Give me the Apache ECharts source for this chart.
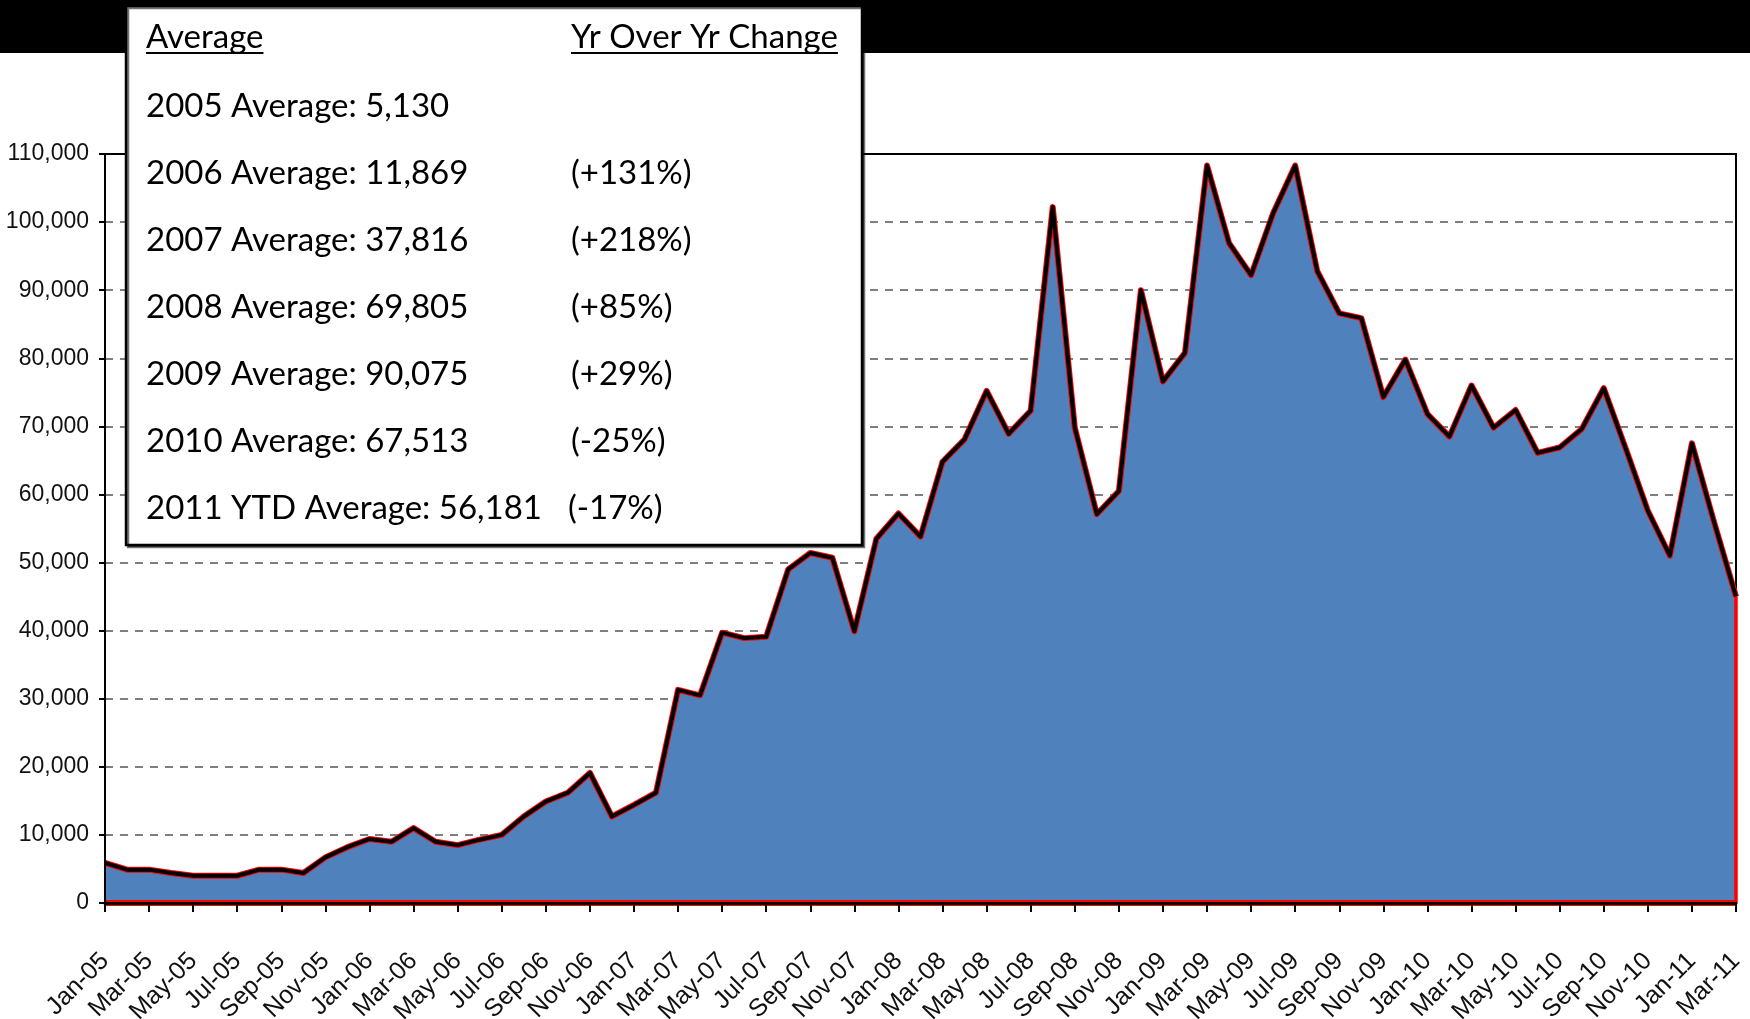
<!DOCTYPE html>
<html>
<head>
<meta charset="UTF-8">
<title>Monthly volume 2005 - 2011</title>
<script src="https://cdn.jsdelivr.net/npm/echarts@6/dist/echarts.min.js"></script>
<style>
	html, body { margin: 0; padding: 0; background: #fff; }
	#chart { width: 1750px; height: 1019px; }
</style>
</head>
<body>
<div id="chart"></div>
<script>
// month labels, Jan-05 .. Mar-11
var monthNames = ['Jan', 'Feb', 'Mar', 'Apr', 'May', 'Jun', 'Jul', 'Aug', 'Sep', 'Oct', 'Nov', 'Dec'];
var yearCodes = ['05', '06', '07', '08', '09', '10', '11'];
var lastYearMonths = 3;

// monthly values
var v2005 = [5900, 4900, 4900, 4400, 4000, 4000, 4000, 4900, 4900, 4400, 6700, 8200];
var v2006 = [9400, 9000, 11000, 9000, 8500, 9300, 10000, 12700, 14900, 16200, 19100, 12700];
var v2007 = [14400, 16200, 31300, 30500, 39700, 38900, 39100, 49000, 51400, 50700, 39900, 53500];
var v2008 = [57200, 53800, 64800, 68100, 75200, 68900, 72300, 102200, 69800, 57100, 60500, 90000];
var v2009 = [76600, 80800, 108300, 96900, 92200, 101300, 108300, 92800, 86600, 85900, 74300, 79800];
var v2010 = [71800, 68500, 76000, 69800, 72400, 66100, 66900, 69600, 75600, 66700, 57600, 51000];
var v2011 = [67500, 56000, 45000];

// y axis
var yMin = 0, yMax = 110000, yStep = 10000;

// box texts
var boxHeaders = ['Average', 'Yr Over Yr Change'];
var avgLabels = ['2005 Average: 5,130', '2006 Average: 11,869', '2007 Average: 37,816',
	'2008 Average: 69,805', '2009 Average: 90,075', '2010 Average: 67,513', '2011 YTD Average: 56,181'];
var yoyLabels = ['', '(+131%)', '(+218%)', '(+85%)', '(+29%)', '(-25%)', '(-17%)'];

var categories = [];
for (var y = 0; y < yearCodes.length; y++) {
	var n = (y === yearCodes.length - 1) ? lastYearMonths : 12;
	for (var m = 0; m < n; m++) categories.push(monthNames[m] + '-' + yearCodes[y]);
}
var values = [].concat(v2005, v2006, v2007, v2008, v2009, v2010, v2011);
var last = values.length - 1;

var axisFont = "'Liberation Sans', Arial, sans-serif";
var boxFont = "33px Lato";

// widths for the underlines
var ctx = document.createElement('canvas').getContext('2d');
ctx.font = boxFont;

var colA = 146, colB = 571;
var graphics = [
	{ type: 'rect', silent: true, z: 90, shape: { x: 0, y: 0, width: 1750, height: 53 }, style: { fill: '#000' } },
	{ type: 'rect', silent: true, z: 95, shape: { x: 126, y: 6, width: 736, height: 539 },
		style: { fill: '#fff', stroke: '#000', lineWidth: 2.5, shadowColor: 'rgba(0,0,0,0.55)', shadowOffsetX: 2, shadowOffsetY: 2 } }
];
[colA, colB].forEach(function (x, i) {
	graphics.push({ type: 'text', silent: true, z: 96, x: x, y: 37,
		style: { text: boxHeaders[i], font: boxFont, fill: '#000', verticalAlign: 'middle' } });
	graphics.push({ type: 'line', silent: true, z: 96,
		shape: { x1: x, y1: 53, x2: x + ctx.measureText(boxHeaders[i]).width, y2: 53 },
		style: { stroke: '#000', lineWidth: 2 } });
});
avgLabels.forEach(function (t, i) {
	var ty = 106 + i * 67.1;
	graphics.push({ type: 'text', silent: true, z: 96, x: colA, y: ty,
		style: { text: t, font: boxFont, fill: '#000', verticalAlign: 'middle' } });
	if (yoyLabels[i]) {
		graphics.push({ type: 'text', silent: true, z: 96, x: colB - (i === avgLabels.length - 1 ? 3 : 0), y: ty,
			style: { text: yoyLabels[i], font: boxFont, fill: '#000', verticalAlign: 'middle' } });
	}
});

var chart = echarts.init(document.getElementById('chart'));
var option = {
	animation: false,
	backgroundColor: '#fff',
	grid: {
		left: 105, right: 14, top: 154, bottom: 116,
		show: true, borderColor: '#000', borderWidth: 2,
		outerBoundsMode: 'none'
	},
	xAxis: {
		type: 'category',
		data: categories,
		boundaryGap: false,
		z: 10,
		axisLine: { lineStyle: { color: '#000', width: 3 } },
		axisTick: { interval: 1, length: 9, lineStyle: { color: '#000', width: 2 } },
		axisLabel: {
			interval: 1, rotate: 45, margin: 54,
			fontFamily: axisFont, fontSize: 25, color: '#111'
		},
		splitLine: { show: false }
	},
	yAxis: [{
		type: 'value', min: yMin, max: yMax, interval: yStep,
		axisLine: { show: false },
		axisTick: { show: false },
		axisLabel: {
			margin: 16, fontFamily: axisFont, fontSize: 23, color: '#111',
			formatter: function (v) { return v.toLocaleString('en-US'); }
		},
		splitLine: {
			show: true, showMinLine: false, showMaxLine: false,
			lineStyle: { color: '#555', width: 1.5, type: [8, 7] }
		}
	}, {
		type: 'value', min: yMin, max: yMax, interval: yStep, position: 'left',
		z: 10,
		axisLine: { show: true, lineStyle: { color: '#000', width: 2 } },
		axisTick: { show: true, length: 6, lineStyle: { color: '#000', width: 2 } },
		axisLabel: { show: false },
		splitLine: { show: false }
	}],
	series: [{
		type: 'line',
		data: values,
		symbol: 'none',
		z: 2,
		lineStyle: { color: '#ff0000', width: 6, join: 'round' },
		areaStyle: { color: '#4F81BD', opacity: 1 },
		emphasis: { disabled: true },
		markLine: {
			silent: true, symbol: 'none', label: { show: false },
			emphasis: { disabled: true },
			data: [
				[{ coord: [categories[0], 0], lineStyle: { color: '#ff0000', width: 6, type: 'solid' } },
				 { coord: [categories[last], 0] }],
				[{ coord: [categories[last], 0], lineStyle: { color: '#ff0000', width: 3.5, type: 'solid' } },
				 { coord: [categories[last], values[last]] }]
			]
		}
	}, {
		type: 'line',
		data: values,
		symbol: 'none',
		z: 3,
		lineStyle: { color: '#000', width: 4, join: 'round' },
		emphasis: { disabled: true }
	}],
	graphic: graphics
};
chart.setOption(option);
</script>
</body>
</html>
